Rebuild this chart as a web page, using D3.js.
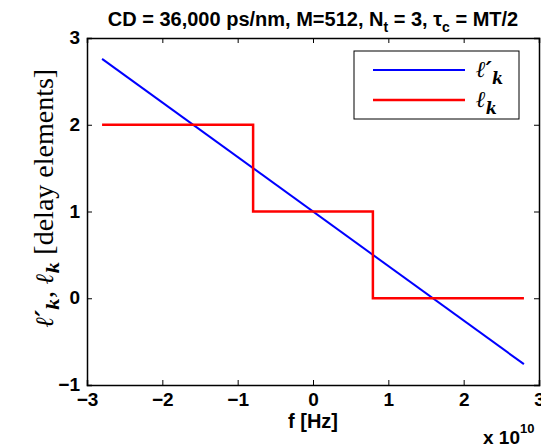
<!DOCTYPE html>
<html>
<head>
<meta charset="utf-8">
<script src="https://cdn.jsdelivr.net/npm/d3@7"></script>
<style>
  body { margin: 0; background: #fff; }
  text { font-family: "Liberation Sans", Arial, sans-serif; }
  .tick text { font-size: 19px; font-weight: bold; }
  .math { font-family: "Liberation Serif", "DejaVu Serif", serif; }
  .ell { font-family: "DejaVu Serif", serif; font-weight: bold; font-style: italic; }
</style>
</head>
<body>
<svg id="chart"></svg>
<script>
// frequency endpoints (Hz) and the ideal delay line
var lineFreq = [-2.8e10, 2.8e10];
var lineDelay = [2.76, -0.76];
// quantised delay (step function)
var stepFreq = [-2.8e10, -0.795e10, -0.795e10, 0.795e10, 0.795e10, 2.8e10];
var stepDelay = [2, 2, 1, 1, 0, 0];
var xTicks = [-3, -2, -1, 0, 1, 2, 3];
var yTicks = [-1, 0, 1, 2, 3];

var W = 541, H = 448;
var margin = {top: 38, right: 2, bottom: 63, left: 87};
var width = W - margin.left - margin.right,
    height = H - margin.top - margin.bottom;

var svg = d3.select("#chart").attr("width", W).attr("height", H);
var g = svg.append("g").attr("transform", "translate(" + margin.left + "," + margin.top + ")");

var x = d3.scaleLinear().domain([-3e10, 3e10]).range([0, width]);
var y = d3.scaleLinear().domain([-1, 3]).range([height, 0]);

// axes, ticks pointing inward
var xb = g.append("g").attr("transform", "translate(0," + height + ")")
  .call(d3.axisBottom(x).tickValues(xTicks.map(d => d * 1e10)).tickSize(-5).tickPadding(7)
    .tickFormat(d => d3.format("d")(d / 1e10).replace("-", "\u2212")));
var xt = g.append("g")
  .call(d3.axisTop(x).tickValues(xTicks.map(d => d * 1e10)).tickSize(-5).tickFormat(""));
var yl = g.append("g")
  .call(d3.axisLeft(y).tickValues(yTicks).tickSize(-5).tickPadding(7)
    .tickFormat(d => String(d).replace("-", "\u2212")));
var yr = g.append("g").attr("transform", "translate(" + width + ",0)")
  .call(d3.axisRight(y).tickValues(yTicks).tickSize(-5).tickFormat(""));
[xb, xt, yl, yr].forEach(a => {
  a.select(".domain").attr("stroke", "#000").attr("stroke-width", 1.5);
  a.selectAll(".tick line").attr("stroke", "#000");
  a.selectAll(".tick text").attr("fill", "#000");
});
xb.selectAll(".tick text").attr("dy", "0.75em");
yl.selectAll(".tick text").attr("dy", "0.3em");

// data lines
var line = d3.line().x(d => x(d[0])).y(d => y(d[1]));
g.append("path").datum(d3.zip(lineFreq, lineDelay))
  .attr("d", line).attr("fill", "none").attr("stroke", "#0000ff").attr("stroke-width", 2);
g.append("path").datum(d3.zip(stepFreq, stepDelay))
  .attr("d", line).attr("fill", "none").attr("stroke", "#ff0000").attr("stroke-width", 2.5);

// title
var title = svg.append("text").attr("x", margin.left + width / 2).attr("y", 26)
  .attr("text-anchor", "middle").style("font-size", "20px").style("font-weight", "bold");
title.append("tspan").text("CD = 36,000 ps/nm, M=512, N");
title.append("tspan").attr("dy", 6).style("font-size", "14px").text("t");
title.append("tspan").attr("dy", -6).text(" = 3, \u03c4");
title.append("tspan").attr("dy", 6).style("font-size", "14px").text("c");
title.append("tspan").attr("dy", -6).text(" = MT/2");

// x label
svg.append("text").attr("x", margin.left + width / 2).attr("y", 428)
  .attr("text-anchor", "middle").style("font-size", "20px").style("font-weight", "bold").text("f [Hz]");
var ex = svg.append("text").attr("x", 483).attr("y", 444)
  .style("font-size", "19px").style("font-weight", "bold");
ex.append("tspan").text("x 10");
ex.append("tspan").attr("dy", -11).style("font-size", "13px").text("10");

// y label
var yt = svg.append("text").attr("class", "math")
  .attr("transform", "translate(53,198) rotate(-90)")
  .attr("text-anchor", "middle").style("font-size", "28px");
yt.append("tspan").attr("class", "ell").style("font-size", "25px").text("\u2113\u2032");
yt.append("tspan").attr("class", "ell").attr("dy", 6).style("font-size", "17px").text("k");
yt.append("tspan").attr("dy", -6).text(", ");
yt.append("tspan").attr("class", "ell").style("font-size", "25px").text("\u2113");
yt.append("tspan").attr("class", "ell").attr("dy", 6).style("font-size", "17px").text("k");
yt.append("tspan").attr("dy", -6).text(" [delay elements]");

// legend
var leg = svg.append("g");
leg.append("rect").attr("x", 354).attr("y", 51).attr("width", 165).attr("height", 68)
  .attr("fill", "#fff").attr("stroke", "#000").attr("stroke-width", 1);
var items = [{c: "#0000ff", s: "\u2113\u2032", yy: 70}, {c: "#ff0000", s: "\u2113", yy: 100}];
items.forEach(it => {
  leg.append("line").attr("x1", 373).attr("x2", 465).attr("y1", it.yy).attr("y2", it.yy)
    .attr("stroke", it.c).attr("stroke-width", it.c === "#ff0000" ? 2.5 : 2);
  var t = leg.append("text").attr("class", "ell").attr("x", 476).attr("y", it.yy + 7)
    .style("font-size", "23px");
  t.append("tspan").text(it.s);
  t.append("tspan").attr("dy", 7).style("font-size", "16px").text("k");
});
</script>
</body>
</html>
